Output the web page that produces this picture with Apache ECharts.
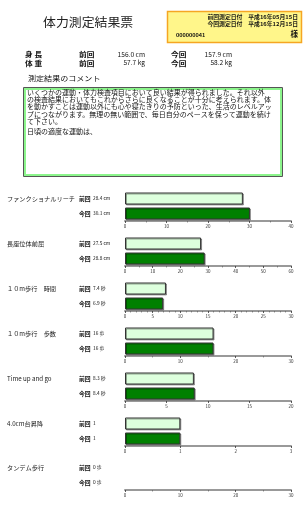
<!DOCTYPE html>
<html>
<head>
    <meta charset="utf-8">
    <title>体力測定結果票</title>
    <script src="https://cdn.jsdelivr.net/npm/echarts@6/dist/echarts.min.js"></script>
    <style>
        html, body { margin: 0; padding: 0; background: #fff; }
    </style>
</head>
<body>
<div id="main" style="width: 304px;height:508px;"></div>
<script type="text/javascript">
    // 測定項目
    var items = ['ファンクショナルリーチ', '長座位体前屈', '１０m歩行　時間', '１０m歩行　歩数', 'Time up and go', '4.0cm台昇降', 'タンデム歩行'];
    var units = [' cm', ' cm', ' 秒', ' 歩', ' 秒', '', ' 歩'];
    var prevValues = [28.4, 27.5, 7.4, 16, 8.3, 1, 0];
    var currValues = [30.1, 28.8, 6.9, 16, 8.4, 1, 0];
    // 軸の目盛
    var axisMax = [40, 60, 30, 30, 20, 3, 30];
    var axisInterval = [10, 10, 5, 10, 5, 1, 10];
    var minorSplit = [2, 2, 5, 2, 0, 0, 2];
    var rowNames = ['前回', '今回'];

    // 身長・体重
    var bodyLabels = ['身 長', '体 重'];
    var bodyPrev = ['156.0 cm', '57.7 kg'];
    var bodyCurr = ['157.9 cm', '58.2 kg'];

    var commentLines = [
        'いくつかの運動・体力検査項目において良い結果が得られました。それ以外',
        'の検査結果においてもこれからさらに良くなることが十分に考えられます。体',
        'を動かすことは運動以外にも心や寝たきりの予防といった、生活のレベルアッ',
        'プにつながります。無理の無い範囲で、毎日自分のペースを保って運動を続け',
        'て下さい。',
        '日頃の適度な運動は、'
    ];

    var FONT = '"Noto Sans CJK JP", sans-serif';
    var gridTops = [191, 236, 281, 326, 371, 416, 460];

    var myChart = echarts.init(document.getElementById('main'));

    function txt(x, y, text, size, opt) {
        opt = opt || {};
        return {
            type: 'text', x: x, y: y, scaleX: opt.sx || 1, z: 10,
            style: {
                text: text, fontSize: size, fontFamily: FONT,
                fontWeight: opt.bold ? 'bold' : 'normal',
                fill: opt.color || '#111',
                align: opt.align || 'left', verticalAlign: 'middle'
            }
        };
    }

    var graphic = [];
    // タイトル
    graphic.push(txt(43, 22, '体力測定結果票', 12.5, {sx: 1.03, color: '#222'}));
    // 黄色の枠
    graphic.push({
        type: 'rect', shape: {x: 167.5, y: 11.5, width: 134, height: 31},
        style: {fill: '#fff68a', stroke: '#f5a623', lineWidth: 1.5}
    });
    graphic.push(txt(298, 17, '前回測定日付　平成16年05月15日', 5.3, {bold: true, align: 'right', sx: 1.1}));
    graphic.push(txt(298, 23.5, '今回測定日付　平成16年12月15日', 5.3, {bold: true, align: 'right', sx: 1.1}));
    graphic.push(txt(176, 35, '000000041', 4.8, {bold: true, sx: 1.15}));
    graphic.push(txt(298, 34, '様', 7.5, {bold: true, align: 'right'}));

    // 身長・体重
    bodyLabels.forEach(function (lab, i) {
        var y = 54.5 + i * 8.5;
        graphic.push(txt(25, y, lab, 7, {bold: true, sx: 1.1}));
        graphic.push(txt(79, y, '前回', 7, {bold: true, sx: 1.1}));
        graphic.push(txt(145, y, bodyPrev[i], 6, {align: 'right', sx: 1.1}));
        graphic.push(txt(171, y, '今回', 7, {bold: true, sx: 1.1}));
        graphic.push(txt(232, y, bodyCurr[i], 6, {align: 'right', sx: 1.1}));
    });

    // コメント
    graphic.push(txt(28, 78, '測定結果のコメント', 7, {sx: 1.15}));
    graphic.push({
        type: 'rect', shape: {x: 23.5, y: 87.5, width: 259, height: 89},
        style: {fill: '#fff', stroke: '#555', lineWidth: 1}
    });
    graphic.push({
        type: 'rect', shape: {x: 25, y: 89, width: 256, height: 86},
        style: {fill: 'none', stroke: '#8cf58c', lineWidth: 2}
    });
    commentLines.forEach(function (line, i) {
        var y = 92.5 + i * 7.2 + (i === 5 ? 2.5 : 0);
        graphic.push(txt(27, y, line, 6.6, {sx: 1.06}));
    });

    // 項目名
    items.forEach(function (name, i) {
        graphic.push(txt(7, gridTops[i] + 7.5, name, 6.2, {color: '#222'}));
    });

    var grids = [], xAxes = [], yAxes = [], series = [];
    items.forEach(function (name, i) {
        grids.push({left: 125, width: 166, top: gridTops[i], height: 30});
        xAxes.push({
            type: 'value', gridIndex: i, min: 0, max: axisMax[i], interval: axisInterval[i],
            axisLine: {show: true, lineStyle: {color: '#999', width: 2}},
            axisTick: {show: true, length: 2, lineStyle: {color: '#333', width: 0.8}},
            minorTick: {show: minorSplit[i] > 0, splitNumber: minorSplit[i] || 5, length: 1.5, lineStyle: {color: '#555', width: 0.6}},
            splitLine: {show: false},
            axisLabel: {fontSize: 4.5, margin: 3, color: '#333', fontFamily: FONT}
        });
        var vals = [prevValues[i], currValues[i]];
        yAxes.push({
            type: 'category', gridIndex: i, data: rowNames, inverse: true,
            axisLine: {show: false}, axisTick: {show: false},
            axisLabel: {
                interval: 0, align: 'left', margin: 46,
                formatter: function (v, idx) {
                    return '{a|' + v + '}{b|' + vals[idx] + units[i] + '}';
                },
                rich: {
                    a: {fontSize: 5.8, fontWeight: 'bold', fontFamily: FONT, color: '#111', width: 14},
                    b: {fontSize: 4.8, fontFamily: FONT, color: '#111'}
                }
            }
        });
        series.push({
            type: 'bar', xAxisIndex: i, yAxisIndex: i, barWidth: 12, silent: true,
            data: [
                {value: prevValues[i], itemStyle: {color: '#ddffdd', borderWidth: prevValues[i] ? 1 : 0}},
                {value: currValues[i], itemStyle: {color: '#008000', borderWidth: currValues[i] ? 1 : 0}}
            ],
            itemStyle: {borderColor: '#333', shadowColor: 'rgba(0,0,0,0.35)', shadowOffsetX: 1, shadowOffsetY: 1},
            animation: false
        });
    });

    myChart.setOption({
        backgroundColor: '#fff',
        animation: false,
        graphic: graphic,
        grid: grids,
        xAxis: xAxes,
        yAxis: yAxes,
        series: series
    });
</script>
</body>
</html>
